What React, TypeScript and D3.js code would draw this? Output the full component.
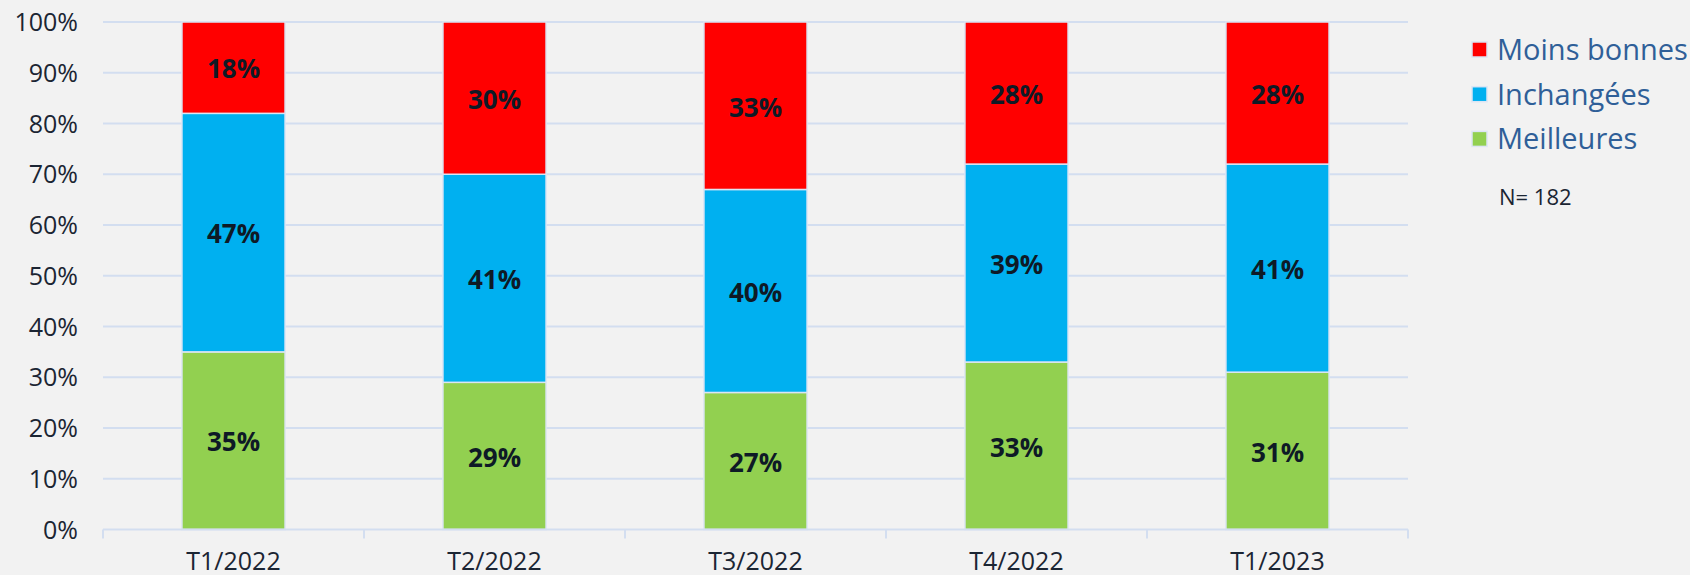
import React from "react";
import * as d3 from "d3";

const categories = ["T1/2022", "T2/2022", "T3/2022", "T4/2022", "T1/2023"];
const meilleures = [35, 29, 27, 33, 31];
const inchangees = [47, 41, 40, 39, 41];
const moinsBonnes = [18, 30, 33, 28, 28];
const seriesNames = ["Meilleures", "Inchangées", "Moins bonnes"];
const seriesColors = ["#92d050", "#00b0f0", "#ff0000"];
const yTicks = [0, 10, 20, 30, 40, 50, 60, 70, 80, 90, 100];
const noteText = "N= 182";

const W = 1690;
const H = 575;
const FONT = "'Open Sans', 'Noto Sans', sans-serif";
const GRID = "#d3def0";
const TXT = "#1b2533";

export default function App() {
  const rows = categories.map((c, i) => ({
    cat: c,
    Meilleures: meilleures[i],
    "Inchangées": inchangees[i],
    "Moins bonnes": moinsBonnes[i],
  }));
  const stacked = d3.stack<any>().keys(seriesNames)(rows);

  const x = d3.scaleBand<string>().domain(categories).range([103, 1408]).padding(0);
  const y = d3.scaleLinear().domain([0, 100]).range([529.5, 22]);
  const barW = x.bandwidth() * 0.395;

  const legendOrder = [2, 1, 0];
  const boundaries = d3.range(categories.length + 1).map((i) => 103 + i * x.step());

  return (
    <svg
      width={W}
      height={H}
      style={{ position: "absolute", left: 0, top: 0, display: "block" }}
      fontFamily={FONT}
    >
      <rect x={0} y={0} width={W} height={H} fill="#f2f2f2" />
      {yTicks.map((t) => (
        <g key={t}>
          {t > 0 && (
            <line x1={103} x2={1408} y1={y(t)} y2={y(t)} stroke={GRID} strokeWidth={2} />
          )}
          <text x={78} y={y(t) + 9} textAnchor="end" fontSize={25} fill={TXT}>
            {t}%
          </text>
        </g>
      ))}
      {stacked.map((s, si) => (
        <g key={s.key}>
          {s.map((d, i) => {
            const cx = x(categories[i])! + x.bandwidth() / 2;
            const y0 = y(d[0]);
            const y1 = y(d[1]);
            return (
              <g key={i}>
                <rect
                  x={cx - barW / 2}
                  y={y1}
                  width={barW}
                  height={y0 - y1}
                  fill={seriesColors[si]}
                  stroke="#dce5f4"
                  strokeWidth={1.5}
                />
                <text
                  x={cx}
                  y={(y0 + y1) / 2 + 10.8}
                  textAnchor="middle"
                  fontSize={26}
                  fontWeight="bold"
                  fill="#0e1a26"
                >
                  {d[1] - d[0]}%
                </text>
              </g>
            );
          })}
        </g>
      ))}
      <line x1={103} x2={1408} y1={y(0)} y2={y(0)} stroke={GRID} strokeWidth={2} />
      {boundaries.map((bx, i) => (
        <line key={i} x1={bx} x2={bx} y1={y(0)} y2={y(0) + 9} stroke={GRID} strokeWidth={2} />
      ))}
      {categories.map((c) => (
        <text
          key={c}
          x={x(c)! + x.bandwidth() / 2}
          y={569.5}
          textAnchor="middle"
          fontSize={25}
          fill={TXT}
        >
          {c}
        </text>
      ))}
      {legendOrder.map((si, k) => (
        <g key={si} transform={`translate(1472, ${42 + k * 44.7})`}>
          <rect x={0} y={0} width={15} height={15} fill={seriesColors[si]} stroke="#dce5f4" strokeWidth={1.5} />
          <text x={25} y={18} fontSize={29} fill="#2f5f98">
            {seriesNames[si]}
          </text>
        </g>
      ))}
      <text x={1499} y={205} fontSize={22} fill={TXT}>
        {noteText}
      </text>
    </svg>
  );
}
